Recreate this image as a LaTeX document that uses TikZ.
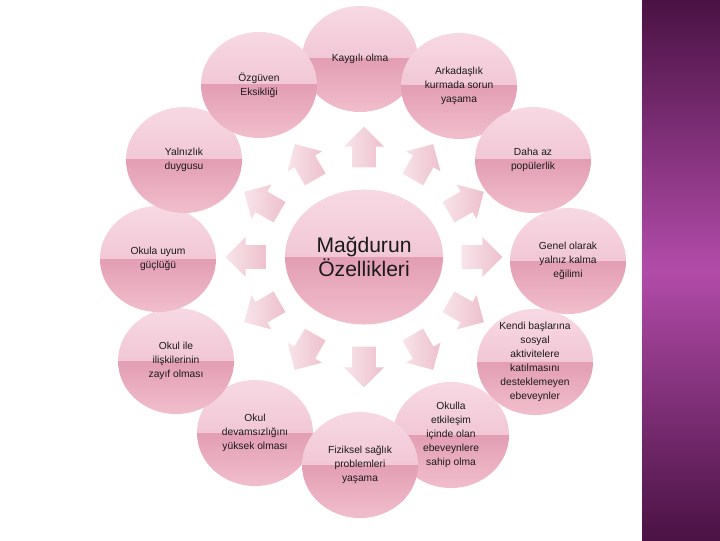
\documentclass[tikz,border=0pt]{standalone}
\usepackage{fontspec}
\setmainfont{Liberation Sans}
\usepackage{tikz}
\usetikzlibrary{shapes.geometric, shapes.arrows, positioning, calc}
\definecolor{pinktop}{HTML}{F7D9E3}
\definecolor{pinkmid}{HTML}{ECB6C7}
\definecolor{pinklow}{HTML}{E39EB4}
\definecolor{pinkbot}{HTML}{F1BECC}
\definecolor{spokebase}{HTML}{F8E4EA}
\definecolor{spoketip}{HTML}{EDC0CC}
\definecolor{plumdark}{HTML}{4A1244}
\definecolor{plummid}{HTML}{B24CA9}
\definecolor{labelink}{HTML}{1A1A1A}

\begin{document}
\begin{tikzpicture}[x=0.025cm, y=0.025cm,
        bubble/.style={ellipse, minimum width=2.9cm, minimum height=2.65cm, inner sep=-6pt, align=center, text=labelink, font=\fontsize{7.3}{10}\selectfont,
            path picture={
                \shade[top color=pinktop, bottom color=pinkmid] (path picture bounding box.north west) rectangle (path picture bounding box.east);
                \shade[top color=pinklow, bottom color=pinkbot] (path picture bounding box.west) rectangle (path picture bounding box.south east);}},
        core/.style={bubble, minimum width=3.95cm, minimum height=3.375cm, font=\fontsize{15}{14.5}\selectfont},
        spoke/.style={single arrow, draw=none, minimum height=1.02cm, text width=0pt, text height=0.29cm, text depth=0.29cm, single arrow head extend=0.2cm, inner sep=0pt, left color=spokebase, right color=spoketip}
    ]
        \useasboundingbox [fill=white] (0,0) rectangle (720,540);
        \shade [top color=plumdark, bottom color=plumdark, middle color=plummid] (642,0) rectangle (720,540);

        \node (core) [core] at (364,283) {Mağdurun\\Özellikleri};

        % spokes
        \foreach \a in {0,30,...,330}
            \node (spoke\a) [spoke, rotate=\a] at ($(core)+(\a:112 and 104)$) {};

        % outer ring
        \node (kaygi) [bubble] at (360,481) {Kaygılı olma};
        \node (arkadas) [bubble] at (459,454) {Arkadaşlık\\kurmada sorun\\yaşama};
        \node (populer) [bubble] at (533,380) {Daha az\\popülerlik};
        \node (genel) [bubble] at (568,279) {Genel olarak\\yalnız kalma\\eğilimi};
        \node (kendi) [bubble] at (535,178) {Kendi başlarına\\sosyal\\aktivitelere\\katılmasını\\desteklemeyen\\ebeveynler};
        \node (okulla) [bubble] at (451,105) {Okulla\\etkileşim\\içinde olan\\ebeveynlere\\sahip olma};
        \node (devam) [bubble] at (255,107) {Okul\\devamsızlığını\\yüksek olması};
        \node (fiziksel) [bubble] at (360,75) {Fiziksel sağlık\\problemleri\\yaşama};
        \node (okulile) [bubble] at (176,179) {Okul ile\\ilişkilerinin\\zayıf olması};
        \node (uyum) [bubble] at (158,281) {Okula uyum\\güçlüğü};
        \node (yalniz) [bubble] at (184,380) {Yalnızlık\\duygusu};
        \node (ozguven) [bubble] at (259,455) {Özgüven\\Eksikliği};
    \end{tikzpicture}
\end{document}
